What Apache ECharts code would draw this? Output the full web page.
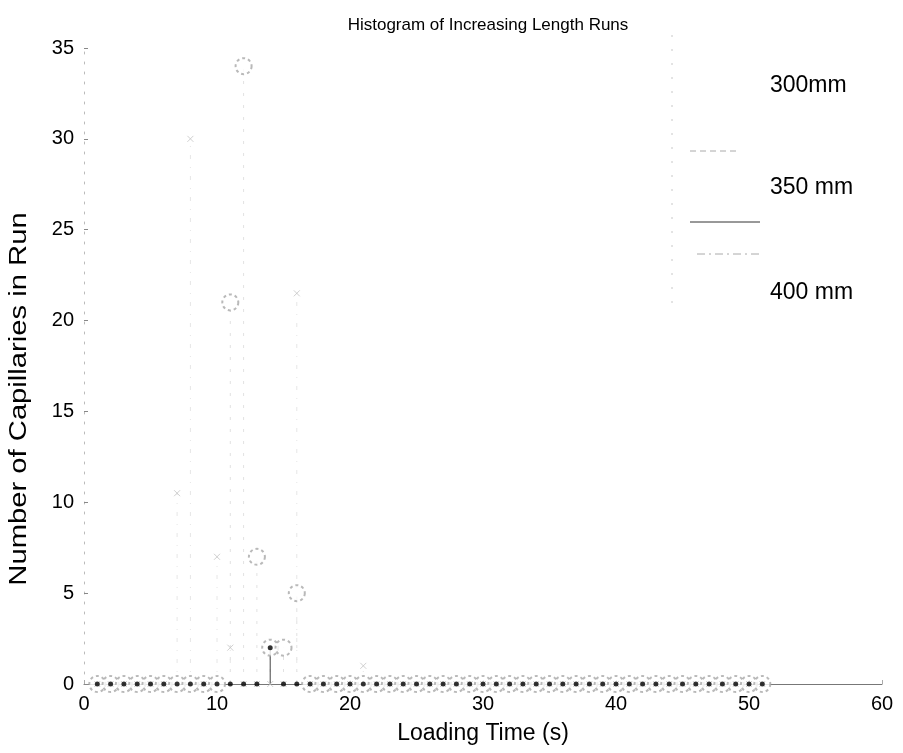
<!DOCTYPE html>
<html>
<head>
<meta charset="utf-8">
<title>Histogram of Increasing Length Runs</title>
<script type="text/javascript" src="https://cdn.jsdelivr.net/npm/echarts@6/dist/echarts.min.js"></script>
<style>
  html, body { margin: 0; padding: 0; background: #fff; }
  #chart { width: 903px; height: 753px; }
</style>
</head>
<body>
<div id="chart"></div>
<script type="text/javascript">
// loading time bins (s)
var loadTime = [1, 2, 3, 4, 5, 6, 7, 8, 9, 10, 11, 12, 13, 14, 15, 16, 17, 18, 19, 20,
    21, 22, 23, 24, 25, 26, 27, 28, 29, 30, 31, 32, 33, 34, 35, 36, 37, 38, 39, 40,
    41, 42, 43, 44, 45, 46, 47, 48, 49, 50, 51];
// number of capillaries in run, per tube length
var runs300 = [0, 0, 0, 0, 0, 0, 0, 0, 0, 0, 21, 34, 7, 2, 2, 5, 0, 0, 0, 0,
    0, 0, 0, 0, 0, 0, 0, 0, 0, 0, 0, 0, 0, 0, 0, 0, 0, 0, 0, 0,
    0, 0, 0, 0, 0, 0, 0, 0, 0, 0, 0];
var runs350 = [0, 0, 0, 0, 0, 0, 0, 0, 0, 0, 0, 0, 0, 2, 0, 0, 0, 0, 0, 0,
    0, 0, 0, 0, 0, 0, 0, 0, 0, 0, 0, 0, 0, 0, 0, 0, 0, 0, 0, 0,
    0, 0, 0, 0, 0, 0, 0, 0, 0, 0, 0];
var runs400 = [0, 0, 0, 0, 0, 0, 10.5, 30, 0, 7, 2, 0, 0, 0, 0, 21.5, 0, 0, 0, 0,
    1, 0, 0, 0, 0, 0, 0, 0, 0, 0, 0, 0, 0, 0, 0, 0, 0, 0, 0, 0,
    0, 0, 0, 0, 0, 0, 0, 0, 0, 0, 0];
var legendNames = ['300mm', '350 mm', '400 mm'];

function pairs(vals) {
    var out = [];
    for (var i = 0; i < loadTime.length; i++) out.push([loadTime[i], vals[i]]);
    return out;
}

function stem(color, dash) {
    return function (params, api) {
        var p0 = api.coord([api.value(0), 0]);
        var p1 = api.coord([api.value(0), api.value(1)]);
        return {
            type: 'line',
            shape: { x1: p0[0], y1: p0[1], x2: p1[0], y2: p1[1] },
            style: { stroke: color, lineWidth: 1, lineDash: dash }
        };
    };
}

var myChart = echarts.init(document.getElementById('chart'));
var font = 'Liberation Sans, Arial, sans-serif';

var option = {
    backgroundColor: '#fff',
    animation: false,
    title: {
        text: 'Histogram of Increasing Length Runs',
        left: 483,
        top: 12,
        textAlign: 'center',
        textStyle: { fontFamily: font, fontSize: 17, fontWeight: 'normal', color: '#000' }
    },
    grid: { left: 84, right: 21, top: 48, bottom: 69 },
    xAxis: {
        type: 'value',
        min: 0, max: 60, interval: 10,
        name: 'Loading Time (s)',
        nameLocation: 'middle',
        nameGap: 38,
        nameTextStyle: { fontFamily: font, fontSize: 23, color: '#000' },
        axisLine: { lineStyle: { color: '#777', width: 1 } },
        axisTick: { inside: true, length: 4, lineStyle: { color: '#aaa' } },
        axisLabel: { fontFamily: font, fontSize: 20, color: '#000', margin: 10 },
        splitLine: { show: false }
    },
    yAxis: {
        type: 'value',
        min: 0, max: 35, interval: 5,
        axisLine: { show: true, lineStyle: { color: '#bbb', width: 1, type: [2, 8] } },
        axisTick: { show: true, inside: true, length: 4, lineStyle: { color: '#888' } },
        axisLabel: { fontFamily: font, fontSize: 20, color: '#000', margin: 10 },
        splitLine: { show: false }
    },
    series: [
        { name: legendNames[0], type: 'custom', renderItem: stem('#e2e2e2', [3, 9]), data: pairs(runs300), z: 1 },
        { name: legendNames[2], type: 'custom', renderItem: stem('#e6e6e6', [4, 8, 1, 8]), data: pairs(runs400), z: 1 },
        { name: legendNames[1], type: 'custom', renderItem: stem('#444', null), data: pairs(runs350), z: 2 },
        {
            name: legendNames[0], type: 'scatter', data: pairs(runs300),
            symbol: 'emptyCircle', symbolSize: 16,
            itemStyle: { color: '#a8a8a8', borderWidth: 1, borderType: [3, 3] }, z: 3
        },
        {
            name: legendNames[2], type: 'scatter', data: pairs(runs400),
            symbol: 'path://M0,0L10,10M10,0L0,10', symbolSize: 6,
            itemStyle: { color: 'none', borderColor: '#c4c4c4', borderWidth: 1 }, z: 4
        },
        {
            name: legendNames[1], type: 'scatter', data: pairs(runs350),
            symbol: 'circle', symbolSize: 5,
            itemStyle: { color: '#000' }, z: 5
        }
    ],
    graphic: [
        // y axis title, stretched along its length like the scanned original
        {
            type: 'text', x: 20, y: 399, rotation: Math.PI / 2, scaleX: 1.27,
            style: { text: 'Number of Capillaries in Run', font: '23px ' + font, fill: '#000', align: 'center', verticalAlign: 'middle' }
        },
        { type: 'line', shape: { x1: 672, y1: 35, x2: 672, y2: 315 }, style: { stroke: '#c8c8c8', lineWidth: 1, lineDash: [2, 12] } },
        { type: 'text', style: { x: 770, y: 86, text: legendNames[0], font: '23px ' + font, fill: '#000', verticalAlign: 'middle' } },
        { type: 'line', shape: { x1: 690, y1: 151, x2: 740, y2: 151 }, style: { stroke: '#aaa', lineWidth: 1, lineDash: [6, 4] } },
        { type: 'text', style: { x: 770, y: 188, text: legendNames[1], font: '23px ' + font, fill: '#000', verticalAlign: 'middle' } },
        { type: 'line', shape: { x1: 690, y1: 222, x2: 760, y2: 222 }, style: { stroke: '#333', lineWidth: 1 } },
        { type: 'line', shape: { x1: 697, y1: 254, x2: 760, y2: 254 }, style: { stroke: '#aaa', lineWidth: 1, lineDash: [8, 4, 2, 4] } },
        { type: 'text', style: { x: 770, y: 293, text: legendNames[2], font: '23px ' + font, fill: '#000', verticalAlign: 'middle' } }
    ]
};
myChart.setOption(option);
</script>
</body>
</html>
